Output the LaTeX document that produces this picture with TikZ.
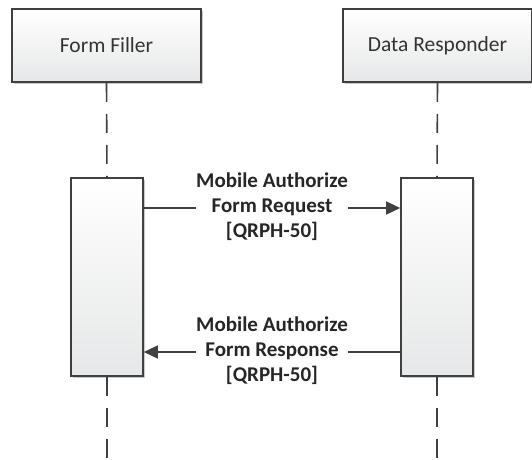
\documentclass[tikz,border=0pt]{standalone}
\usepackage{fontspec}
\setmainfont{Carlito}
\usetikzlibrary{shadows,arrows.meta}
\definecolor{lineC}{HTML}{404040}
\definecolor{fillB}{HTML}{E6E7E8}
\begin{document}
\begin{tikzpicture}[x=1pt,y=-1pt,
  actor/.style={draw=lineC,line width=1.6pt,minimum width=189pt,minimum height=73pt,
    top color=white,bottom color=fillB,inner sep=0pt,font=\fontsize{21.5}{24}\selectfont,text=black!80,
    drop shadow={shadow xshift=2pt,shadow yshift=-2pt,opacity=0.35,fill=black!60}},
  actbox/.style={draw=lineC,line width=1.6pt,minimum width=72pt,minimum height=198pt,
    top color=white,bottom color=fillB,inner sep=0pt,
    drop shadow={shadow xshift=2pt,shadow yshift=-2pt,opacity=0.35,fill=black!60}},
  life/.style={draw=lineC,line width=1.6pt,dash pattern=on 19pt off 12pt},
  msg/.style={draw=lineC,line width=1.3pt},
  msglabel/.style={fill=white,inner sep=0pt,align=center,font=\fontsize{21}{25}\selectfont\bfseries,text=black!85}
]
\useasboundingbox (0,0) rectangle (532,459);
\begin{scope}
\clip (0,0) rectangle (532,459);
\node[actor] (ff) at (106.5,45.5) {Form Filler};
\node[actor] (dr) at (437.5,45.5) {Data Responder};
\node[actbox] (a1) at (107,277) {};
\node[actbox] (a2) at (437,277) {};
\coordinate (e1) at (107,459);
\coordinate (e2) at (437,459);
\draw[life] (ff.south) -- (a1.north);
\draw[life] (dr.south) -- (a2.north);
\draw[life] (a1.south) -- (e1);
\draw[life] (a2.south) -- (e2);
\coordinate (r1) at (a1.east |- 0,208);
\coordinate (r2) at (a2.west |- 0,208);
\coordinate (s1) at (a1.east |- 0,352);
\coordinate (s2) at (a2.west |- 0,352);
\draw[msg,-{Triangle[length=14pt,width=13pt]}] (r1) -- (r2)
  node[midway,msglabel,yshift=1pt] (m1) {Mobile Authorize\\Form Request\\{[}QRPH-50{]}};
\draw[msg,-{Triangle[length=14pt,width=13pt]}] (s2) -- (s1)
  node[midway,msglabel,yshift=1pt] (m2) {Mobile Authorize\\Form Response\\{[}QRPH-50{]}};
\end{scope}
\end{tikzpicture}
\end{document}
